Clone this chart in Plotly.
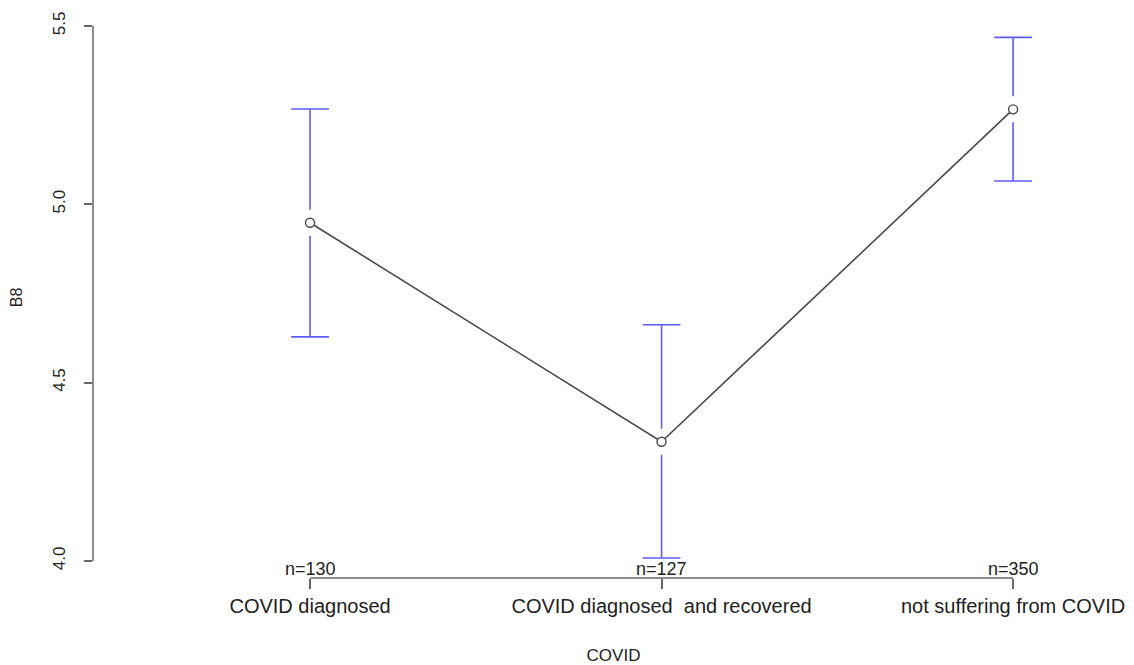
import plotly.graph_objects as go

# ---- data ----
categories = ["COVID diagnosed", "COVID diagnosed  and recovered", "not suffering from COVID"]
n_counts = [130, 127, 350]
means = [4.948, 4.334, 5.266]
upper = [5.267, 4.662, 5.468]
lower = [4.628, 4.008, 5.065]
y_ticks = [4.0, 4.5, 5.0, 5.5]

x_pos = list(range(1, len(categories) + 1))

# ---- layout geometry (page body has an 8px margin) ----
W, H = 1126, 657
ML, MR, MT, MB = 85, 0, 9, 87
y_range = [3.952, 5.525]
x_range = [0.3826, 3.344]
px_per_y = (H - MT - MB) / (y_range[1] - y_range[0])
gap = 13 / px_per_y  # gap around the point on the CI bars

bar_col = "#5c5cff"
line_col = "#4a4a4a"
axis_col = "#666666"
font_family = "Liberation Sans, Arial, sans-serif"

fig = go.Figure()

# CI bars (with a gap around the mean, as in gplots::plotmeans)
seg_x, seg_y = [], []
for xp, m, u, l in zip(x_pos, means, upper, lower):
    seg_x += [xp, xp, None, xp, xp, None]
    seg_y += [m + gap, u, None, m - gap, l, None]
fig.add_trace(go.Scatter(x=seg_x, y=seg_y, mode="lines",
                         line=dict(color=bar_col, width=1.6),
                         hoverinfo="skip", showlegend=False))
# caps
fig.add_trace(go.Scatter(x=x_pos + x_pos, y=upper + lower, mode="markers",
                         marker=dict(symbol="line-ew", size=27,
                                     line=dict(color=bar_col, width=1.6)),
                         hoverinfo="skip", showlegend=False))
# means connected
fig.add_trace(go.Scatter(x=x_pos, y=means, mode="lines+markers",
                         line=dict(color=line_col, width=1.6),
                         marker=dict(symbol="circle", size=9, color="white",
                                     line=dict(color=line_col, width=1.4)),
                         showlegend=False))

# R-style axis lines spanning only the data/tick extent
fig.add_shape(type="line", xref="paper", yref="y", x0=0, x1=0,
              y0=y_ticks[0], y1=y_ticks[-1], line=dict(color=axis_col, width=1.5))
fig.add_shape(type="line", xref="x", yref="paper", x0=x_pos[0], x1=x_pos[-1],
              y0=0, y1=0, line=dict(color=axis_col, width=1.5))

# n labels
for xp, n in zip(x_pos, n_counts):
    fig.add_annotation(x=xp, y=0, xref="x", yref="paper", text=f"n={n}",
                       showarrow=False, yanchor="bottom", yshift=-3,
                       font=dict(size=18, color="#222222", family=font_family))

fig.update_layout(
    width=W, height=H,
    margin=dict(l=ML, r=MR, t=MT, b=MB),
    plot_bgcolor="white", paper_bgcolor="white",
    font=dict(family=font_family, color="#222222"),
    xaxis=dict(range=x_range, tickvals=x_pos, ticktext=categories,
               showline=False, showgrid=False, zeroline=False,
               ticks="outside", ticklen=10, tickwidth=1.5, tickcolor=axis_col,
               tickfont=dict(size=20),
               title=dict(text="COVID", font=dict(size=17), standoff=34)),
    yaxis=dict(range=y_range, tickvals=y_ticks,
               ticktext=[f"{v:.1f}" for v in y_ticks],
               showline=False, showgrid=False, zeroline=False,
               ticks="outside", ticklen=8, tickwidth=1.5, tickcolor=axis_col,
               tickangle=-90, tickfont=dict(size=17), ticklabelstandoff=12,
               title=dict(text="B8", font=dict(size=16), standoff=30)),
)

fig.write_html("out.html")
